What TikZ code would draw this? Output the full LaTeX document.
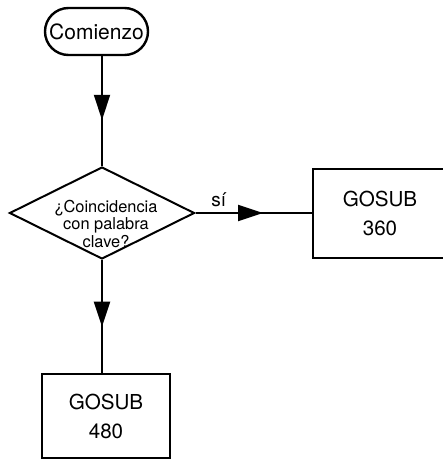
\documentclass[tikz,border=0pt]{standalone}
\usepackage{fontspec}
\setmainfont{TeX Gyre Heros}
\usetikzlibrary{arrows.meta, positioning, shapes.geometric, decorations.markings}

\begin{document}
\begin{tikzpicture}[x=0.5pt,y=-0.5pt,line width=1pt,
  term node/.style={rectangle,draw,line width=1.2pt,rounded corners=11.75pt,
    minimum width=51.5pt,minimum height=23.5pt,inner sep=0pt,
    font=\fontsize{10.5}{12}\selectfont},
  dec node/.style={diamond,draw,shape aspect=2,minimum width=92.5pt,
    minimum height=46pt,inner sep=0pt},
  dec text/.style={align=center,inner sep=0pt,font=\fontsize{8.2}{6.9}\selectfont},
  box node/.style={rectangle,draw,minimum width=64pt,minimum height=42pt,
    align=center,font=\fontsize{10.3}{14.5}\selectfont},
  flow/.style={postaction={decorate},decoration={markings,
    mark=at position #1 with {\arrow{Triangle[length=12.5pt,width=8pt]}}}}]

  \useasboundingbox (0,0) rectangle (443,461);

  \node[term node] (start) at (96.5,31.5) {Comienzo};
  \node[dec node,label={[name=matchtext,dec text,xshift=2pt,yshift=-5.5pt]center:{¿Coincidencia\\con palabra\\clave?}}] (match) at (102,213) {};
  \node[box node,minimum width=67pt,minimum height=44.5pt,anchor=west] (sub360) at (312,213) {GOSUB\\360};
  \node[box node] (sub480) at (106,416) {GOSUB\\480};

  \draw[flow=0.58] (start.south -| match.north) -- (match.north);
  \draw[flow=0.58] (match.east) -- node[above,pos=0.2,inner sep=2.5pt,
    font=\fontsize{9.5}{10}\selectfont] (yes) {sí} (sub360.west);
  \draw[flow=0.59] (match.south) -- (match.south |- sub480.north);
\end{tikzpicture}
\end{document}
